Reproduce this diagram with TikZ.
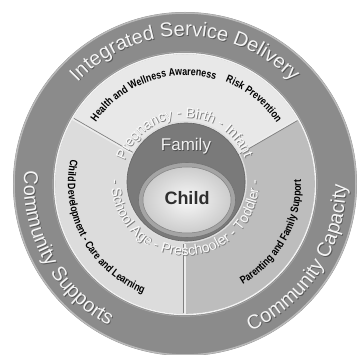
\documentclass[tikz,border=0pt]{standalone}
\usepackage{fontspec}
\setmainfont{Liberation Sans}
\newfontfamily\narrowfont[FakeStretch=0.82]{Liberation Sans}
\usetikzlibrary{decorations.text}

\definecolor{bandgray}{HTML}{8B8B8B}
\definecolor{toparea}{HTML}{E8E8E8}
\definecolor{leftarea}{HTML}{DCDCDC}
\definecolor{rightarea}{HTML}{BDBDBD}
\definecolor{familygray}{HTML}{7A7A7A}
\definecolor{childrim}{HTML}{A4A4A4}

\newcommand\bandsize{\fontsize{20}{24}\selectfont}
\newcommand\stagesize{\fontsize{14}{16}\selectfont}
\newcommand\labelsize{\narrowfont\bfseries\fontsize{10.8}{12}\selectfont}

% text set on an arc: radius, start angle, end angle, colour, text
\newcommand\arclabel[5]{%
  \path[decorate,decoration={text along path,text align=center,text color=#4,text={#5}}]
    (#2:#1) arc[start angle=#2,end angle=#3,radius=#1];}

\newcommand\embossed[2]{\makebox[0pt][l]{\hspace{0.8pt}\raisebox{-0.8pt}{\color{#2}#1}}#1}

\tikzset{
  divider/.style={line width=1.8pt,white!85!gray},
  divider shade/.style={line width=0.7pt,gray}
}

\begin{document}
\begin{tikzpicture}[x=1pt,y=1pt]
  \useasboundingbox (-185,-171) rectangle (174,184);

  \foreach \a/\c in {30/toparea,150/leftarea,270/rightarea}
    \fill[\c] (0,0) -- (\a:130) arc[start angle=\a,delta angle=120,radius=130] -- cycle;

  \fill[bandgray,even odd rule] (0,0) circle (172) (0,0) circle (130);
  \draw[line width=1.5pt,gray!55] (0,0) circle (171);
  \draw[line width=1.4pt,white!90!gray] (0,0) circle (130.5);
  \draw[line width=0.6pt,gray!70] (0,0) circle (132.3);

  \foreach \a in {30,150,270} {
    \draw[divider] (\a:60) -- (\a:130);
    \draw[divider shade,shift={(\a-90:1.3)}] (\a:60) -- (\a:129);
  }

  \draw[line width=1.2pt,white!75!gray] (1,2) circle (60.3);
  \fill[familygray] (1,2) circle (59);
  \draw[line width=0.6pt,black!60] (1,2) circle (59);
  \fill[childrim] (2,-16) ellipse[x radius=48.5,y radius=37.5];
  \draw[line width=0.6pt,black!55] (2,-16) ellipse[x radius=48.5,y radius=37.5];
  \shade[inner color=white!94!gray,outer color=gray!40] (2,-16) ellipse[x radius=44,y radius=33];
  \draw[line width=0.5pt,gray] (2,-16) ellipse[x radius=44,y radius=33];

  \node (family) at (1,37) {\fontsize{17}{20}\selectfont\color{white!88!gray}\embossed{Family}{black!70}};
  \node (child) at (2,-14) {\fontsize{18}{21}\selectfont\bfseries\color{black!82}Child};

  \begin{scope}[shift={(0.9,-0.9)}]
    \arclabel{148}{155}{25}{black!65}{|\bandsize|Integrated Service Delivery}
    \arclabel{161}{150}{267}{black!65}{|\bandsize|Community Supports}
    \arclabel{161}{270}{384}{black!65}{|\bandsize|Community Capacity}
  \end{scope}
  \arclabel{148}{155}{25}{white!92!gray}{|\bandsize|Integrated Service Delivery}
  \arclabel{161}{150}{267}{white!92!gray}{|\bandsize|Community Supports}
  \arclabel{161}{270}{384}{white!92!gray}{|\bandsize|Community Capacity}

  \arclabel{108.5}{170}{49}{black}{|\labelsize|Health and Wellness Awareness}
  \arclabel{110}{81}{21}{black}{|\labelsize|Risk Prevention}
  \arclabel{117}{148}{269}{black}{|\labelsize|Child Development - Care and Learning}
  \arclabel{116}{271}{391}{black}{|\labelsize|Parenting and Family Support}

  \begin{scope}[shift={(0.9,1.6)}]
    \arclabel{64}{180}{2}{black!50}{|\stagesize|Pregnancy - Birth - Infant}
    \arclabel{74}{150}{390}{black!50}{|\stagesize|- School Age - Preschooler - Toddler -}
  \end{scope}
  \begin{scope}[shift={(0,2.5)}]
    \arclabel{64}{180}{2}{white!97!gray}{|\stagesize|Pregnancy - Birth - Infant}
    \arclabel{74}{150}{390}{white!97!gray}{|\stagesize|- School Age - Preschooler - Toddler -}
  \end{scope}
\end{tikzpicture}
\end{document}
